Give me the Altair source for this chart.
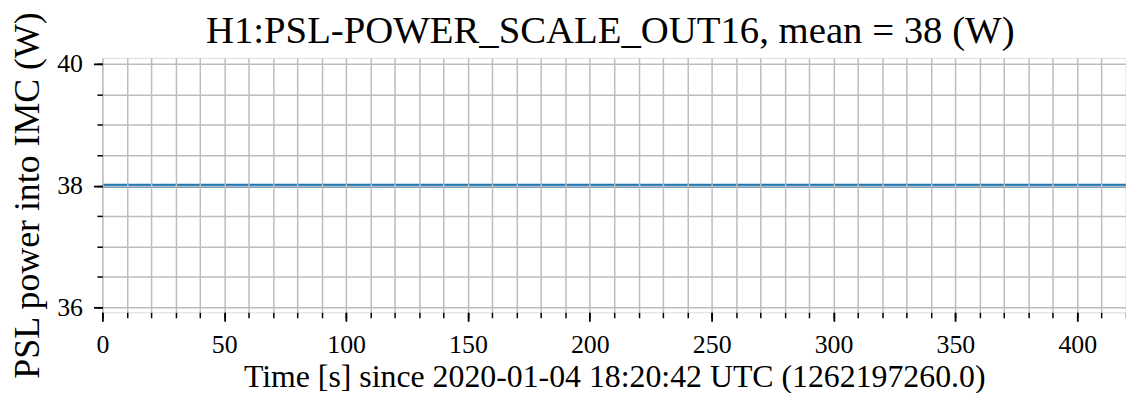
import altair as alt
import pandas as pd

# ---- data ----
time_s = [0, 60, 120, 180, 240, 300, 360, 420]
power_w = [38.0, 38.0, 38.0, 38.0, 38.0, 38.0, 38.0, 38.0]

x_major = [0, 50, 100, 150, 200, 250, 300, 350, 400]
x_minor = [0, 10, 20, 30, 40, 50, 60, 70, 80, 90, 100, 110, 120, 130, 140, 150,
           160, 170, 180, 190, 200, 210, 220, 230, 240, 250, 260, 270, 280, 290,
           300, 310, 320, 330, 340, 350, 360, 370, 380, 390, 400, 410, 420]
y_major = [36, 38, 40]
y_minor = [36.0, 36.5, 37.0, 37.5, 38.0, 38.5, 39.0, 39.5, 40.0]

title_text = "H1:PSL-POWER_SCALE_OUT16, mean = 38 (W)"
x_title = "Time [s] since 2020-01-04 18:20:42 UTC (1262197260.0)"
y_title = "PSL power into IMC (W)"

df = pd.DataFrame({"t": time_s, "p": power_w})

FONT = "Liberation Serif"
GRID = "#bdbdbd"
W, H = 1030, 256

xscale = alt.Scale(domain=[0, 420], nice=False, zero=False)
yscale = alt.Scale(domain=[35.92, 40.1], nice=False, zero=False)

base = alt.Chart(df)

# layer with minor ticks + grid (grid drawn above the data, as in reference)
grid_layer = base.mark_line(opacity=0).encode(
    x=alt.X("t:Q", scale=xscale,
            axis=alt.Axis(orient="bottom", values=x_minor, labels=False,
                          tickSize=5.5, tickWidth=1.5, tickColor="black",
                          grid=True, gridColor=GRID, gridWidth=1.5,
                          domain=False, title="", zindex=1)),
    y=alt.Y("p:Q", scale=yscale,
            axis=alt.Axis(orient="left", values=y_minor, labels=False,
                          tickSize=5.5, tickWidth=1.5, tickColor="black",
                          grid=True, gridColor=GRID, gridWidth=1.5,
                          domain=False, title="", zindex=1)),
)

line_layer = base.mark_line(color="#1f77b4", strokeWidth=4).encode(
    x=alt.X("t:Q", scale=xscale,
            axis=alt.Axis(orient="bottom", values=x_major, format="d",
                          tickSize=9, tickWidth=1.8, tickColor="black",
                          grid=False, domain=False,
                          labelFont=FONT, labelFontSize=26, labelColor="black",
                          labelPadding=10, labelFlush=False,
                          title=x_title, titleFont=FONT, titleFontSize=32,
                          titleFontWeight="normal", titleColor="black",
                          titleBaseline="alphabetic", titleAlign="center",
                          titleX=W / 2, titleY=75, zindex=2)),
    y=alt.Y("p:Q", scale=yscale,
            axis=alt.Axis(orient="left", values=y_major, format="d",
                          tickSize=9, tickWidth=1.8, tickColor="black",
                          grid=False, domain=False,
                          labelFont=FONT, labelFontSize=26, labelColor="black",
                          labelPadding=11, labelFlush=False,
                          title=y_title, titleFont=FONT, titleFontSize=36,
                          titleFontWeight="normal", titleColor="black",
                          titleAngle=270, titleBaseline="alphabetic",
                          titleAlign="center", titleX=-64, titleY=138,
                          zindex=2)),
)

chart = alt.layer(grid_layer, line_layer).resolve_axis(
    x="independent", y="independent"
).properties(
    width=W,
    height=H,
    title=alt.TitleParams(title_text, font=FONT, fontSize=39,
                          fontWeight="normal", color="black",
                          anchor="middle", frame="group", offset=0,
                          baseline="alphabetic", dx=-4, dy=71),
    autosize=alt.AutoSizeParams(type="none"),
    padding={"left": 95, "top": 49, "right": 0, "bottom": 80},
).configure_view(
    stroke="#8a8a8a", strokeWidth=2
).configure(background="white")

chart.save("out.html", embed_options={"renderer": "svg", "actions": False})
